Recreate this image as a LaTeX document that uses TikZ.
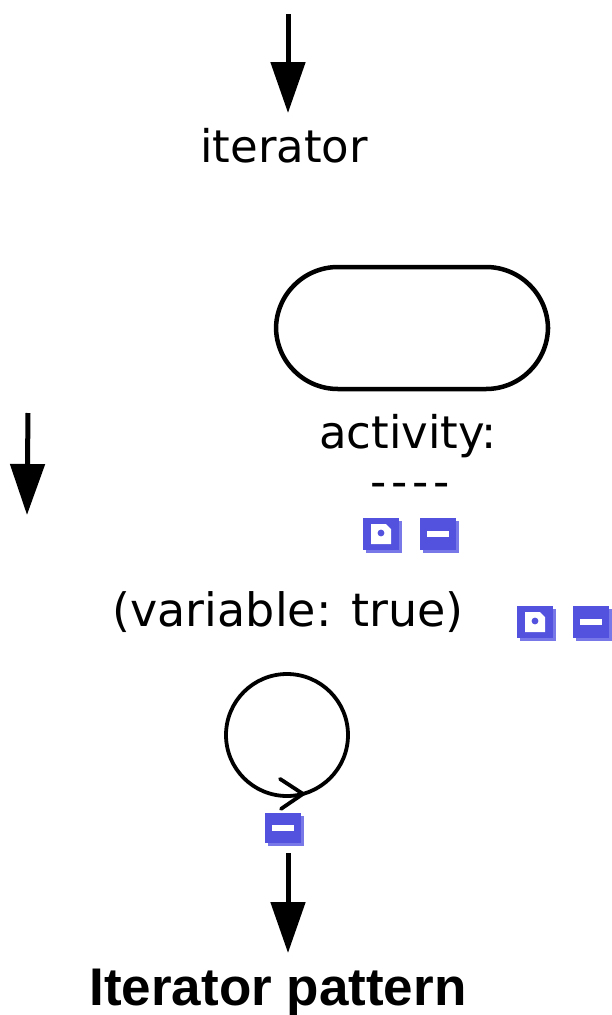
\documentclass[tikz,border=0pt]{standalone}
\usepackage{fontspec}
\setmainfont{DejaVu Sans}
\newfontfamily\titlefont{Liberation Sans}
\usetikzlibrary{arrows.meta,calc,shadows}
\definecolor{iconblue}{RGB}{82,82,222}
\definecolor{iconshade}{RGB}{120,120,232}
\begin{document}
\begin{tikzpicture}[x=1pt,y=-1pt,
  flowarrow/.style={line width=5pt,-{Triangle[length=51pt,width=34pt]}},
  lbl/.style={inner sep=0pt,anchor=base,text=black,font=\fontsize{45pt}{54pt}\selectfont},
  iconbase/.style={rectangle,inner sep=0pt,minimum width=36pt,minimum height=32pt,fill=iconblue,
    general shadow={fill=iconshade,shadow xshift=3pt,shadow yshift=-3pt}},
  fileicon/.style={iconbase,path picture={
    \fill[white] ([shift={(-10pt,-10pt)}]path picture bounding box.center) -- ++(0pt,20pt) -- ++(15pt,0pt) -- ++(5pt,-5pt) -- ++(0pt,-15pt) -- cycle;
    \fill[iconblue] ([shift={(0pt,1pt)}]path picture bounding box.center) circle[radius=3.4pt];}},
  minusicon/.style={iconbase,path picture={
    \fill[white] ([shift={(-11pt,-3pt)}]path picture bounding box.center) rectangle ++(22pt,6pt);}}
]
\useasboundingbox (0,0) rectangle (611,1015);
% top arrow and label
\coordinate (topstart) at (288,14);
\coordinate (topend) at (288,113);
\draw[flowarrow] (topstart) -- (topend);
\node[lbl] (iterator) at (284,162) {iterator};
% activity box
\node[draw,line width=4.5pt,rectangle,rounded corners=62pt,minimum width=272pt,minimum height=122pt,inner sep=0pt] (activity) at (412,328) {};
\node[lbl] (activitylbl) at (408,448) {activity:};
\node[lbl] (dashes) at (410,497) {-\hspace{5pt}-\hspace{5pt}-\hspace{5pt}-};
\node[fileicon] (ic1) at (381,534) {};
\node[minusicon] (ic2) at (438,534) {};
% left arrow
\coordinate (leftstart) at (28,413);
\coordinate (leftend) at (27,515);
\draw[flowarrow] (leftstart) -- (leftend);
% variable
\node[lbl,font=\fontsize{46pt}{55pt}\selectfont] (variable) at (288,626) {(variable: true)};
\node[fileicon] (ic3) at (535,622) {};
\node[minusicon] (ic4) at (591,622) {};
% loop
\node[draw,circle,line width=3.8pt,minimum size=122pt,inner sep=0pt] (loop) at (287,735) {};
\draw[line width=3.8pt,line cap=round,line join=miter] ($(loop.south)+(-7,-19)$) -- ($(loop.south)+(16,-4)$) -- ($(loop.south)+(-6,11)$);
\node[minusicon,minimum height=30pt] (ic5) at (283,828) {};
% bottom arrow
\coordinate (botstart) at (288,853);
\coordinate (botend) at (288,953);
\draw[flowarrow] (botstart) -- (botend);
\node[inner sep=0pt,anchor=base,font=\titlefont\bfseries\fontsize{53pt}{64pt}\selectfont] (title) at (278,1005) {Iterator pattern};
\end{tikzpicture}
\end{document}
